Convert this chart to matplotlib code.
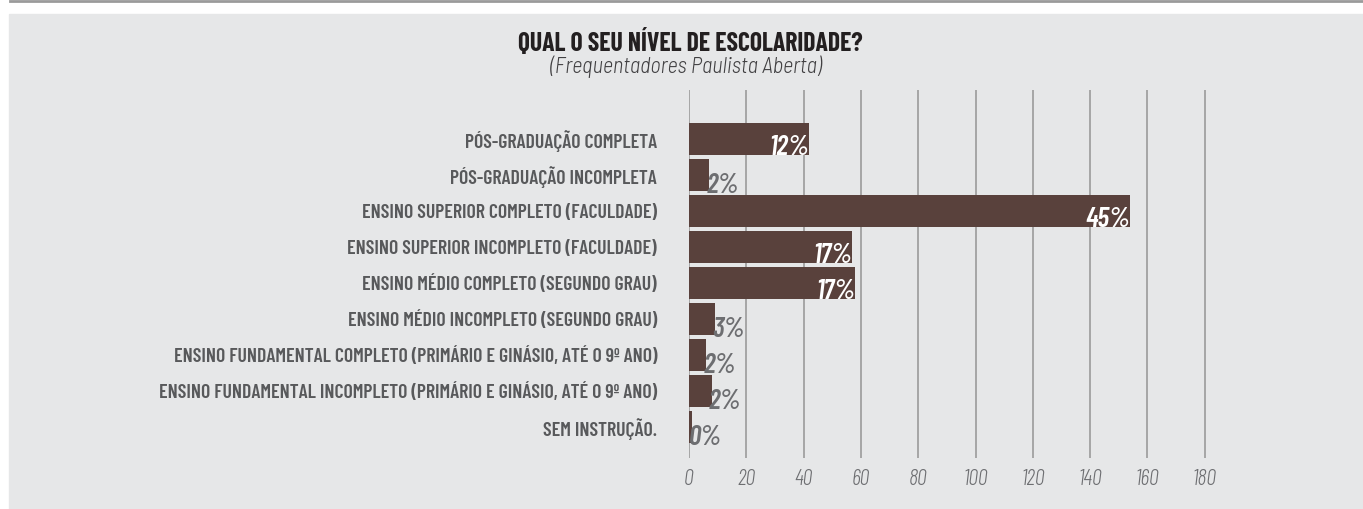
import matplotlib
matplotlib.use("Agg")
import matplotlib.pyplot as plt
from matplotlib.patches import Rectangle
from matplotlib.lines import Line2D

# data
categories = [
    "PÓS-GRADUAÇÃO COMPLETA",
    "PÓS-GRADUAÇÃO INCOMPLETA",
    "ENSINO SUPERIOR COMPLETO (FACULDADE)",
    "ENSINO SUPERIOR INCOMPLETO (FACULDADE)",
    "ENSINO MÉDIO COMPLETO (SEGUNDO GRAU)",
    "ENSINO MÉDIO INCOMPLETO (SEGUNDO GRAU)",
    "ENSINO FUNDAMENTAL COMPLETO (PRIMÁRIO E GINÁSIO, ATÉ O 9º ANO)",
    "ENSINO FUNDAMENTAL INCOMPLETO (PRIMÁRIO E GINÁSIO, ATÉ O 9º ANO)",
    "SEM INSTRUÇÃO.",
]
counts = [42, 7, 154, 57, 58, 9, 6, 8, 1]
pct_labels = ["12%", "2%", "45%", "17%", "17%", "3%", "2%", "2%", "0%"]
xticks = [0, 20, 40, 60, 80, 100, 120, 140, 160, 180]

W, H = 1363, 509
bg = "#e6e7e8"
bar_color = "#59413c"
grid_color = "#9b9b9b"
label_color = "#58595b"
pct_grey = "#6d6e71"
cond = ["Barlow Condensed", "DejaVu Sans"]
semi = ["Barlow Semi Condensed", "DejaVu Sans"]

fig = plt.figure(figsize=(W / 100, H / 100), dpi=100)
fig.patch.set_facecolor("white")
fig.add_artist(Rectangle((9 / W, 0), 1 - 9 / W, 1 - 14 / H,
                         transform=fig.transFigure, color=bg, zorder=0))
fig.add_artist(Line2D([10 / W, 1], [1 - 1 / H, 1 - 1 / H],
                      transform=fig.transFigure, color="#9a9a9a", lw=2))

ax_left, ax_top, ax_bottom = 689, 90, 458
px_per_unit = 57.3 / 20
xmax = 190
ax = fig.add_axes([ax_left / W, 1 - ax_bottom / H,
                   xmax * px_per_unit / W, (ax_bottom - ax_top) / H])
ax.set_facecolor("none")

ypos = list(range(len(categories)))
bh = 0.89
ax.barh(ypos, counts, height=bh, color=bar_color, zorder=3)

ax.set_xlim(0, xmax)
ax.set_ylim(8.86, -1.36)
ax.set_xticks(xticks)
ax.set_xticklabels([str(t) for t in xticks], family=cond, style="italic",
                   fontweight=300, fontsize=16, color=pct_grey)
ax.set_yticks(ypos)
ax.set_yticklabels(categories, family=cond, fontweight=600,
                   fontsize=14.2, color=label_color)
ax.tick_params(axis="both", length=0)
ax.tick_params(axis="y", pad=23)
ax.tick_params(axis="x", pad=8)
for s in ax.spines.values():
    s.set_visible(False)
ax.grid(axis="x", color=grid_color, lw=1.2, zorder=1)
ax.set_axisbelow(True)

for i, (v, lab) in enumerate(zip(counts, pct_labels)):
    if v > 20:
        ax.text(v, i + bh / 2, lab, ha="right", va="baseline", color="white",
                family=cond, style="italic", fontweight=600, fontsize=20, zorder=4)
    else:
        ax.text(v - 1, i + bh / 2 + 0.05, lab, ha="left", va="baseline",
                color=pct_grey, family=cond, style="italic", fontweight=600,
                fontsize=20, zorder=4)

fig.text(690 / W, 1 - 42 / H, "QUAL O SEU NÍVEL DE ESCOLARIDADE?", ha="center",
         va="center", family=cond, fontweight=700, fontsize=18.5, color="#231f20")
fig.text(686 / W, 1 - 67 / H, "(Frequentadores Paulista Aberta)", ha="center",
         va="center", family=semi, style="italic", fontweight=300, fontsize=16,
         color="#414042")

fig.savefig("out.png", dpi=100, facecolor=fig.get_facecolor())
